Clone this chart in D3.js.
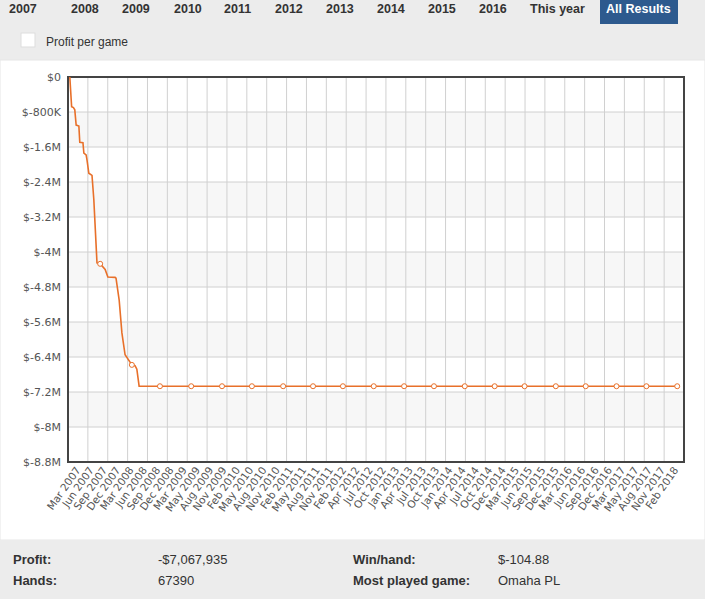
<!DOCTYPE html>
<html><head><meta charset="utf-8">
<script src="https://cdn.jsdelivr.net/npm/d3@7"></script>
<style>
body{margin:0;background:#fff;font-family:Arial,"Liberation Sans",sans-serif;}
svg{display:block}
</style></head>
<body><svg id="c" width="705" height="599"></svg>
<script>
const yearTabs = ['2007','2008','2009','2010','2011','2012','2013','2014','2015','2016','This year','All Results']
const tickLabels = ['Mar 2007','Jun 2007','Sep 2007','Dec 2007','Mar 2008','Jun 2008','Sep 2008','Dec 2008','Mar 2009','May 2009','Aug 2009','Nov 2009','Feb 2010','May 2010','Aug 2010','Nov 2010','Feb 2011','May 2011','Aug 2011','Nov 2011','Feb 2012','Apr 2012','Jul 2012','Oct 2012','Jan 2013','Apr 2013','Jul 2013','Oct 2013','Jan 2014','Apr 2014','Jul 2014','Oct 2014','Dec 2014','Mar 2015','Jun 2015','Sep 2015','Dec 2015','Mar 2016','Jun 2016','Sep 2016','Dec 2016','Mar 2017','May 2017','Aug 2017','Nov 2017','Feb 2018']
// months since Jan 2007, cumulative profit
const lineMonths = [0.4,0.8,1.2,1.5,1.8,2.4,2.6,3.3,3.5,4.0,4.2,4.6,5.3,5.7,6.4,7.1,8.2,8.8,10.4,10.6,11.3,11.9,12.6,14.1,14.8,15.2,15.7,134.7]
const lineValues = [0,-680000,-700000,-750000,-1100000,-1120000,-1490000,-1500000,-1740000,-1780000,-1900000,-2200000,-2250000,-2800000,-4250000,-4270000,-4400000,-4570000,-4580000,-4600000,-5100000,-5850000,-6350000,-6580000,-6600000,-6680000,-7067935,-7067935]
const markerMonths = [7.1,14.1,20.3,27.2,34.0,40.6,47.5,54.1,60.7,67.5,74.2,80.8,87.6,94.2,100.8,107.7,114.3,121.1,127.7,134.5]
const stats = [['Profit:','-$7,067,935','Win/hand:','$-104.88'],['Hands:','67390','Most played game:','Omaha PL']]

const svg = d3.select('#c')
// header
svg.append('rect').attr('width',705).attr('height',60).attr('fill','#ececec')
const tabX = [9,71,122,174,224,275,326,377,428,479,530,606]
svg.append('rect').attr('x',600).attr('y',-2).attr('width',78).attr('height',26).attr('fill','#2d5a8e')
svg.selectAll('.tab').data(yearTabs).join('text')
  .attr('x',(d,i)=>tabX[i]).attr('y',13).attr('font-size',12.5).attr('font-weight','bold')
  .attr('fill',(d,i)=>i==11?'#fff':'#333').text(d=>d)
svg.append('rect').attr('x',21).attr('y',33).attr('width',14).attr('height',14).attr('fill','#fff').attr('stroke','#ddd')
svg.append('text').attr('x',46).attr('y',46).attr('font-size',12).attr('fill','#333').text('Profit per game')
svg.append('rect').attr('x',0).attr('y',60).attr('width',705).attr('height',480).attr('fill','#fff').attr('stroke','#e6e6e6')

const x0=68,x1=684,y0=77,y1=462
const x = d3.scaleLinear().domain([0,136]).range([x0,x1])
const y = d3.scaleLinear().domain([-8800000,0]).range([y1,y0])
const yTicks = d3.range(0,-8800001,-800000)
const fmt = v => v===0 ? '$0' : '$-' + (Math.abs(v)>=1e6 ? (Math.abs(v)/1e6)+'M' : (Math.abs(v)/1e3)+'K')

// bands
svg.selectAll('.band').data(yTicks.slice(0,-1)).join('rect')
  .attr('x',x0).attr('width',x1-x0).attr('y',d=>y(d)).attr('height',d=>y(d-800000)-y(d))
  .attr('fill',(d,i)=>i%2?'#f7f7f7':'#fff')
// grids
const gridX = d3.range(31).map(i=>x0+ (i+1)*(x1-x0)/31)
svg.selectAll('.gx').data(gridX).join('line').attr('x1',d=>d).attr('x2',d=>d).attr('y1',y0).attr('y2',y1).attr('stroke','#d0d0d0')
svg.selectAll('.gy').data(yTicks).join('line').attr('x1',x0).attr('x2',x1).attr('y1',d=>y(d)).attr('y2',d=>y(d)).attr('stroke','#d0d0d0')
svg.append('rect').attr('x',x0).attr('y',y0).attr('width',x1-x0).attr('height',y1-y0).attr('fill','none').attr('stroke','#444').attr('stroke-width',2)

svg.selectAll('.yl').data(yTicks).join('text').attr('x',61).attr('y',d=>y(d)+4)
  .attr('text-anchor','end').attr('font-size',11).attr('fill','#555').attr('font-family','Verdana,"DejaVu Sans",sans-serif').text(fmt)

// x labels: evenly placed categories
const lx = d3.scalePoint().domain(tickLabels).range([x(2),x(134)])
svg.selectAll('.xl').data(tickLabels).join('text')
  .attr('transform',d=>`translate(${lx(d)+4},${y1+8}) rotate(-55)`)
  .attr('text-anchor','end').attr('font-size',10.5).attr('fill','#555').attr('font-family','Verdana,"DejaVu Sans",sans-serif').text(d=>d)

const pts = lineMonths.map((m,i)=>[m,lineValues[i]])
svg.append('path').datum(pts).attr('fill','none').attr('stroke','#e8702a').attr('stroke-width',1.6)
  .attr('d',d3.line().x(d=>x(d[0])).y(d=>y(d[1])))
const valAt = m => { for(let i=pts.length-1;i>=0;i--) if(pts[i][0]<=m) return pts[i][1]; return 0 }
svg.selectAll('.mk').data(markerMonths).join('circle').attr('cx',d=>x(d)).attr('cy',d=>y(valAt(d)))
  .attr('r',2.5).attr('fill','#fff').attr('stroke','#e8702a').attr('stroke-width',1)

// footer
svg.append('rect').attr('y',540).attr('width',705).attr('height',59).attr('fill','#ececec')
stats.forEach((r,i)=>{
  const yy=564+i*21
  ;[[13,r[0],1],[158,r[1],0],[353,r[2],1],[498,r[3],0]].forEach(c=>{
    svg.append('text').attr('x',c[0]).attr('y',yy).attr('font-size',13).attr('fill','#333')
      .attr('font-weight',c[2]?'bold':'normal').text(c[1])
  })
})
</script></body></html>
